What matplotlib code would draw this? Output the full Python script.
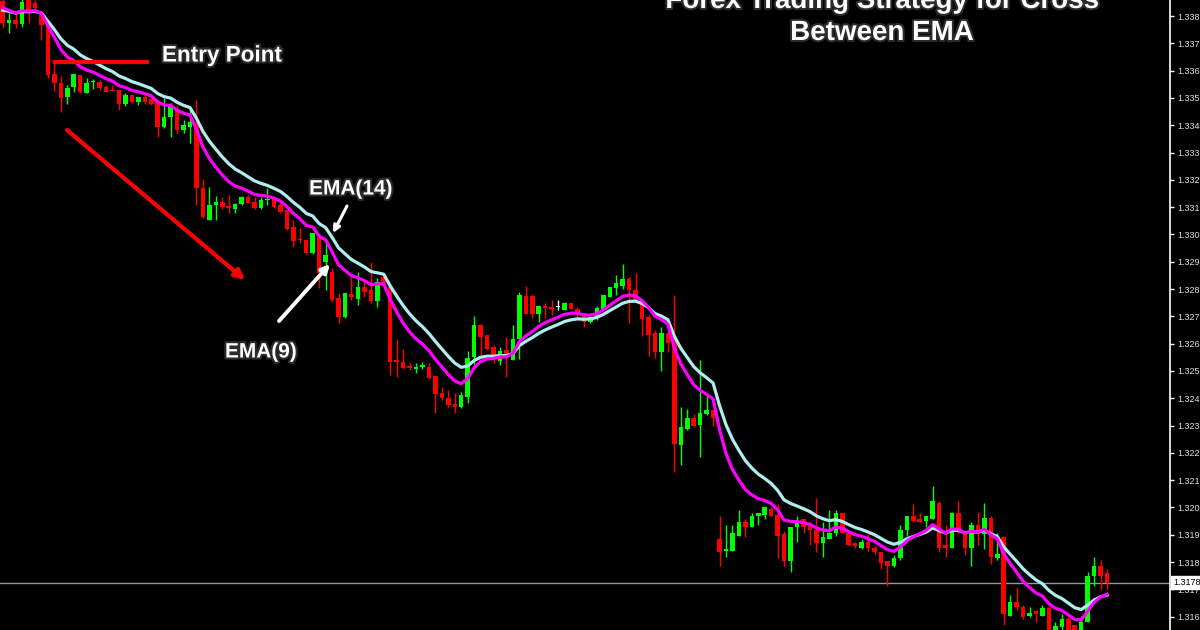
import numpy as np
import matplotlib
matplotlib.use('Agg')
import matplotlib.pyplot as plt
from matplotlib.patches import FancyArrowPatch
from matplotlib.lines import Line2D
import matplotlib.patheffects as pe

# EURUSD-style candles (one per bar, left to right)
opens = [1.33915, 1.33835, 1.33846, 1.33831, 1.33919, 1.33908, 1.33864, 1.33827, 1.33648, 1.33615,
         1.33564, 1.33601, 1.33644, 1.33579, 1.33619, 1.33619, 1.33601, 1.33590, 1.33590, 1.33538,
         1.33571, 1.33546, 1.33564, 1.33557, 1.33546, 1.33454, 1.33491, 1.33516, 1.33443, 1.33454,
         1.33472, 1.33231, 1.33114, 1.33169, 1.33180, 1.33165, 1.33154, 1.33172, 1.33198, 1.33180,
         1.33158, 1.33187, 1.33194, 1.33169, 1.33150, 1.33088, 1.33044, 1.33041, 1.32993, 1.33052,
         1.32960, 1.32923, 1.32828, 1.32759, 1.32843, 1.32825, 1.32869, 1.32858, 1.32817, 1.32905,
         1.32869, 1.32601, 1.32594, 1.32579, 1.32568, 1.32576, 1.32576, 1.32543, 1.32481, 1.32462,
         1.32440, 1.32429, 1.32466, 1.32612, 1.32729, 1.32693, 1.32649, 1.32598, 1.32638, 1.32601,
         1.32678, 1.32836, 1.32836, 1.32770, 1.32799, 1.32795, 1.32795, 1.32784, 1.32810, 1.32788,
         1.32762, 1.32740, 1.32755, 1.32788, 1.32832, 1.32865, 1.32872, 1.32898, 1.32858, 1.32821,
         1.32759, 1.32700, 1.32631, 1.32700, 1.32686, 1.32290, 1.32349, 1.32389, 1.32363, 1.32404,
         1.32418, 1.31946, 1.31899, 1.31899, 1.31957, 1.32005, 1.31987, 1.32027, 1.32034, 1.32056,
         1.32034, 1.31961, 1.31862, 1.31987, 1.32016, 1.31994, 1.31979, 1.31928, 1.31943, 1.31965,
         1.32041, 1.31965, 1.31928, 1.31910, 1.31932, 1.31910, 1.31895, 1.31862, 1.31847, 1.31873,
         1.31976, 1.32027, 1.32019, 1.32012, 1.32019, 1.32078, 1.31921, 1.31913, 1.32041, 1.31965,
         1.31910, 1.31994, 1.31961, 1.32023, 1.31873, 1.31950, 1.31664, 1.31712, 1.31697, 1.31661,
         1.31679, 1.31664, 1.31690, 1.31606, 1.31621, 1.31650, 1.31628, 1.31599, 1.31639, 1.31807,
         1.31844, 1.31818]
highs = [1.33937, 1.33871, 1.33871, 1.33930, 1.33930, 1.33919, 1.33871, 1.33831, 1.33688, 1.33641,
         1.33608, 1.33648, 1.33644, 1.33634, 1.33630, 1.33626, 1.33608, 1.33608, 1.33593, 1.33579,
         1.33575, 1.33564, 1.33571, 1.33560, 1.33553, 1.33560, 1.33542, 1.33535, 1.33480, 1.33516,
         1.33553, 1.33264, 1.33235, 1.33202, 1.33198, 1.33205, 1.33176, 1.33202, 1.33205, 1.33198,
         1.33198, 1.33231, 1.33202, 1.33176, 1.33150, 1.33114, 1.33085, 1.33041, 1.33066, 1.33055,
         1.33030, 1.32938, 1.32847, 1.32847, 1.32912, 1.32923, 1.32894, 1.32960, 1.32902, 1.32909,
         1.32872, 1.32678, 1.32642, 1.32590, 1.32590, 1.32594, 1.32590, 1.32543, 1.32503, 1.32492,
         1.32481, 1.32484, 1.32634, 1.32762, 1.32733, 1.32693, 1.32656, 1.32649, 1.32686, 1.32729,
         1.32850, 1.32872, 1.32843, 1.32799, 1.32810, 1.32821, 1.32821, 1.32814, 1.32810, 1.32795,
         1.32773, 1.32773, 1.32799, 1.32839, 1.32869, 1.32912, 1.32953, 1.32905, 1.32920, 1.32821,
         1.32766, 1.32711, 1.32722, 1.32711, 1.32839, 1.32429, 1.32422, 1.32404, 1.32601, 1.32473,
         1.32418, 1.32027, 1.31997, 1.31994, 1.32052, 1.32019, 1.32041, 1.32041, 1.32063, 1.32063,
         1.32071, 1.31972, 1.31990, 1.32027, 1.32019, 1.32008, 1.32093, 1.32008, 1.32052, 1.32049,
         1.32041, 1.31972, 1.31932, 1.31943, 1.31961, 1.31917, 1.31895, 1.31862, 1.31884, 1.31994,
         1.32027, 1.32071, 1.32041, 1.32030, 1.32137, 1.32082, 1.31997, 1.32045, 1.32082, 1.31968,
         1.32005, 1.32045, 1.32078, 1.32027, 1.31968, 1.31957, 1.31738, 1.31767, 1.31701, 1.31697,
         1.31686, 1.31701, 1.31694, 1.31639, 1.31668, 1.31657, 1.31631, 1.31661, 1.31825, 1.31880,
         1.31869, 1.31833]
lows = [1.33817, 1.33798, 1.33817, 1.33820, 1.33835, 1.33882, 1.33773, 1.33634, 1.33586, 1.33509,
        1.33538, 1.33582, 1.33579, 1.33579, 1.33593, 1.33590, 1.33582, 1.33586, 1.33516, 1.33531,
        1.33542, 1.33535, 1.33538, 1.33535, 1.33418, 1.33451, 1.33418, 1.33432, 1.33432, 1.33396,
        1.33169, 1.33121, 1.33114, 1.33114, 1.33154, 1.33139, 1.33139, 1.33169, 1.33176, 1.33154,
        1.33154, 1.33169, 1.33158, 1.33139, 1.33077, 1.33015, 1.33030, 1.32989, 1.32989, 1.32865,
        1.32858, 1.32814, 1.32737, 1.32755, 1.32821, 1.32803, 1.32832, 1.32810, 1.32795, 1.32880,
        1.32546, 1.32539, 1.32568, 1.32565, 1.32554, 1.32568, 1.32532, 1.32407, 1.32455, 1.32429,
        1.32407, 1.32426, 1.32444, 1.32583, 1.32612, 1.32638, 1.32590, 1.32583, 1.32539, 1.32601,
        1.32605, 1.32770, 1.32755, 1.32740, 1.32755, 1.32766, 1.32784, 1.32784, 1.32788, 1.32759,
        1.32722, 1.32737, 1.32748, 1.32784, 1.32832, 1.32839, 1.32861, 1.32737, 1.32814, 1.32689,
        1.32616, 1.32609, 1.32561, 1.32631, 1.32191, 1.32217, 1.32345, 1.32353, 1.32243, 1.32400,
        1.32360, 1.31844, 1.31880, 1.31899, 1.31954, 1.31950, 1.31987, 1.31997, 1.32016, 1.32030,
        1.31873, 1.31847, 1.31822, 1.31935, 1.31965, 1.31924, 1.31895, 1.31880, 1.31943, 1.31957,
        1.31965, 1.31917, 1.31910, 1.31906, 1.31902, 1.31888, 1.31836, 1.31774, 1.31840, 1.31869,
        1.31957, 1.32008, 1.32005, 1.31987, 1.32019, 1.31895, 1.31880, 1.31910, 1.31961, 1.31884,
        1.31844, 1.31924, 1.31906, 1.31851, 1.31869, 1.31631, 1.31661, 1.31686, 1.31653, 1.31657,
        1.31642, 1.31664, 1.31577, 1.31577, 1.31577, 1.31577, 1.31558, 1.31577, 1.31639, 1.31774,
        1.31756, 1.31760]
closes = [1.33835, 1.33846, 1.33831, 1.33912, 1.33871, 1.33890, 1.33827, 1.33644, 1.33615, 1.33560,
          1.33597, 1.33648, 1.33582, 1.33615, 1.33623, 1.33597, 1.33582, 1.33586, 1.33538, 1.33571,
          1.33546, 1.33564, 1.33546, 1.33538, 1.33454, 1.33491, 1.33527, 1.33443, 1.33461, 1.33472,
          1.33231, 1.33125, 1.33169, 1.33180, 1.33161, 1.33158, 1.33172, 1.33198, 1.33176, 1.33158,
          1.33187, 1.33191, 1.33161, 1.33143, 1.33081, 1.33037, 1.33041, 1.32993, 1.33066, 1.32920,
          1.32986, 1.32821, 1.32759, 1.32847, 1.32832, 1.32869, 1.32850, 1.32817, 1.32887, 1.32883,
          1.32594, 1.32594, 1.32572, 1.32572, 1.32576, 1.32583, 1.32536, 1.32477, 1.32462, 1.32437,
          1.32429, 1.32473, 1.32609, 1.32729, 1.32686, 1.32642, 1.32612, 1.32634, 1.32612, 1.32678,
          1.32839, 1.32770, 1.32770, 1.32799, 1.32792, 1.32788, 1.32795, 1.32810, 1.32788, 1.32773,
          1.32740, 1.32759, 1.32792, 1.32839, 1.32869, 1.32883, 1.32898, 1.32858, 1.32821, 1.32751,
          1.32693, 1.32631, 1.32700, 1.32664, 1.32294, 1.32353, 1.32389, 1.32360, 1.32407, 1.32418,
          1.32389, 1.31895, 1.31906, 1.31965, 1.32005, 1.31987, 1.32027, 1.32038, 1.32060, 1.32030,
          1.31957, 1.31862, 1.31990, 1.32005, 1.31990, 1.31976, 1.31928, 1.31950, 1.31965, 1.32041,
          1.31965, 1.31921, 1.31917, 1.31932, 1.31910, 1.31895, 1.31858, 1.31847, 1.31873, 1.31979,
          1.32027, 1.32012, 1.32008, 1.32027, 1.32082, 1.31913, 1.31910, 1.32041, 1.31972, 1.31910,
          1.31997, 1.31961, 1.32023, 1.31877, 1.31891, 1.31668, 1.31712, 1.31694, 1.31657, 1.31675,
          1.31668, 1.31690, 1.31595, 1.31624, 1.31650, 1.31599, 1.31584, 1.31642, 1.31807, 1.31844,
          1.31807, 1.31784]

# EMA values at the first bar
ema9_start = 1.33890
ema14_start = 1.33882
bid = 1.31784
price_ticks = [1.33860, 1.33760, 1.33660, 1.33560, 1.33460, 1.33360, 1.33260, 1.33160,
               1.33060, 1.32960, 1.32860, 1.32760, 1.32660, 1.32560, 1.32460, 1.32360,
               1.32260, 1.32160, 1.32060, 1.31960, 1.31860, 1.31760, 1.31660]


def ema(vals, span, start):
    a = 2.0/(span+1)
    out = [start]
    for v in vals[1:]:
        out.append(out[-1] + a*(v - out[-1]))
    return np.array(out)


o = np.array(opens); h = np.array(highs); l = np.array(lows); c = np.array(closes)
idx = np.arange(len(c))
cols = np.where(c > o, '#00ff00', np.where(c < o, '#ff0000', '#ffffff'))

W, H = 1200, 630
fig = plt.figure(figsize=(12, 6.3), dpi=100, facecolor='black')
ax = fig.add_axes([0, 0, 1170/W, 1])
ax.set_facecolor('black')

ax.vlines(idx, l, h, colors=cols, linewidth=1.0, zorder=2)
body = np.maximum(np.abs(c - o), 0.00003)
ax.bar(idx, body, bottom=np.minimum(o, c), width=0.7, color=cols, linewidth=0, zorder=3)

ax.plot(idx, ema(c, 14, ema14_start), color='#afeeee', lw=2.3, zorder=4)
ax.plot(idx, ema(c, 9, ema9_start), color='#ff00ff', lw=2.3, zorder=5)

ax.axhline(bid, color='#8c9aab', lw=1.0, zorder=1)

ax.set_xlim(-0.42, 180.75)
ax.set_ylim(1.31611, 1.33919)
ax.set_xticks([])
ax.yaxis.tick_right()
ax.set_yticks(price_ticks)
ax.set_yticklabels(['%.5f' % t for t in price_ticks], family='Liberation Sans')
ax.tick_params(axis='y', colors='white', labelcolor='#e0e0e0', labelsize=6.5,
               length=3, width=1, pad=2, direction='out')
for s in ['top', 'bottom', 'left']:
    ax.spines[s].set_visible(False)
ax.spines['right'].set_color('white')
ax.spines['right'].set_linewidth(1.2)

# bid price box on the axis
ax.text(1.003, bid, '%.5f' % bid, transform=ax.get_yaxis_transform(), fontsize=6.5,
        family='Liberation Sans', color='black', va='center', ha='left',
        bbox=dict(facecolor='white', edgecolor='white', pad=1.5), zorder=10, clip_on=False)


def fp(x, y):
    return (x / W, 1 - y / H)


glow = [pe.withStroke(linewidth=3, foreground='#2b2b2b')]
tkw = dict(color='white', fontweight='bold', family=['Liberation Sans', 'DejaVu Sans'],
           ha='center', va='center', path_effects=glow)

fig.text(*fp(882, 1), 'Forex Trading Strategy for Cross', fontsize=20, **tkw)
fig.text(*fp(882, 33), 'Between EMA', fontsize=20, **tkw)
fig.text(*fp(222, 56), 'Entry Point', fontsize=16.2, **tkw)
fig.text(*fp(351, 189), 'EMA(14)', fontsize=15, **tkw)
fig.text(*fp(261, 352), 'EMA(9)', fontsize=15, **tkw)

# entry line
fig.add_artist(Line2D([55/W, 147/W], [1-62/H, 1-62/H], color='#ff0000', lw=3))

# arrows
arrows = [((67, 130), (245, 280), '#ff0000', 3.0, 14),
          ((347, 206), (333, 233), 'white', 2.2, 10),
          ((279, 321), (330, 264), 'white', 2.8, 12)]
for (p0, p1, col, lw, ms) in arrows:
    fig.add_artist(FancyArrowPatch(fp(*p0), fp(*p1), transform=fig.transFigure,
                                   arrowstyle='-|>', mutation_scale=ms, color=col, lw=lw,
                                   shrinkA=0, shrinkB=0))

fig.savefig('out.png', dpi=100, facecolor='black')
